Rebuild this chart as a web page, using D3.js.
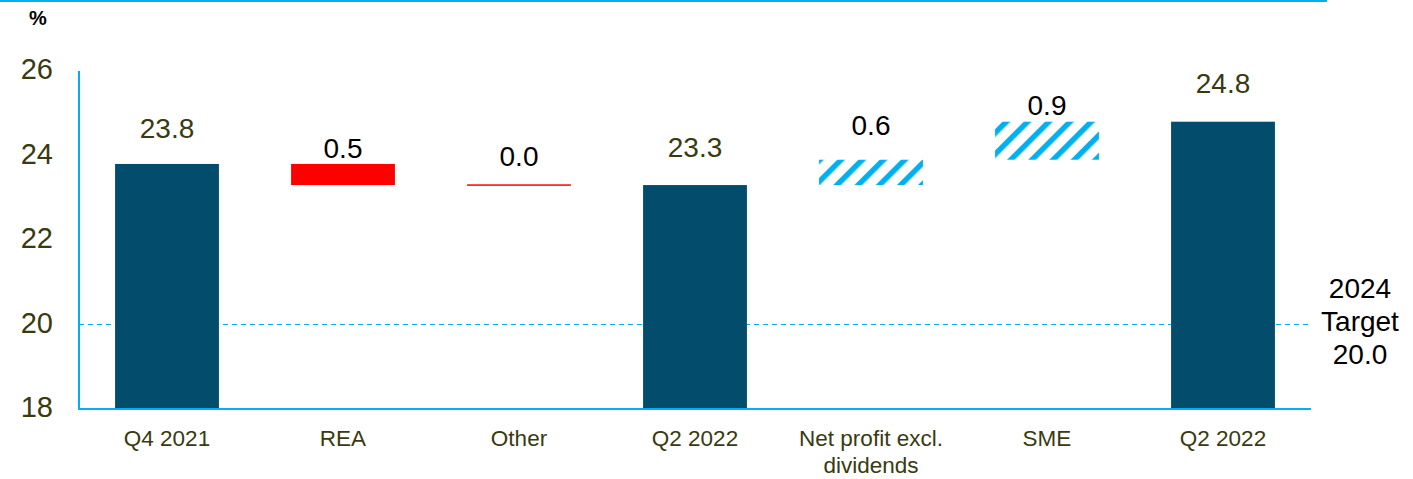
<!DOCTYPE html>
<html>
<head>
<meta charset="utf-8">
<script src="https://cdn.jsdelivr.net/npm/d3@7"></script>
<style>
  body { margin: 0; background: #fff; }
  svg { display: block; font-family: "Liberation Sans", Arial, sans-serif; }
</style>
</head>
<body>
<script>
// waterfall: CET1 ratio bridge
var categories = ["Q4 2021", "REA", "Other", "Q2 2022", "Net profit excl.|dividends", "SME", "Q2 2022"];
var kinds = ["total", "down", "down", "total", "up", "up", "total"];
var values = [23.8, 0.5, 0.0, 23.3, 0.6, 0.9, 24.8];
var yTicks = [18, 20, 22, 24, 26];
var target = 20.0;
var targetLines = ["2024", "Target", "20.0"];

var width = 1413, height = 479;
var plot = {left: 79, right: 1311, top: 71, bottom: 409};
// label distance above each bar (px)
var labelGap = [26, 6, 19, 28, 25, 7, 29];

var navy = "#044c6c", cyan = "#00b0f0", red = "#ff0000", olive = "#3a3a10";

// running totals
var bars = [];
var level = 0;
for (var i = 0; i < values.length; i++) {
  var lo, hi;
  if (kinds[i] == "total") { level = values[i]; lo = yTicks[0]; hi = level; }
  else if (kinds[i] == "down") { hi = level; level = level - values[i]; lo = level; }
  else { lo = level; level = level + values[i]; hi = level; }
  bars.push({i: i, kind: kinds[i], lo: lo, hi: hi, label: values[i].toFixed(1)});
}

var x = d3.scaleBand()
  .domain(d3.range(categories.length))
  .range([plot.left, plot.right])
  .paddingInner(0.41)
  .paddingOuter(0.205);

var y = d3.scaleLinear()
  .domain([18, 26])
  .range([plot.bottom, plot.top]);

var svg = d3.select("body").append("svg")
  .attr("width", width).attr("height", height);

var defs = svg.append("defs");
var pat = defs.append("pattern")
  .attr("id", "hatch")
  .attr("patternUnits", "userSpaceOnUse")
  .attr("width", 15).attr("height", 15)
  .attr("patternTransform", "rotate(45)");
pat.append("rect").attr("width", 15).attr("height", 15).attr("fill", "#fff");
pat.append("rect").attr("x", 0).attr("width", 5.5).attr("height", 15).attr("fill", cyan);

// top rule
svg.append("line")
  .attr("x1", 0).attr("x2", 1327).attr("y1", 1).attr("y2", 1)
  .attr("stroke", cyan).attr("stroke-width", 2);

svg.append("text")
  .attr("x", 29).attr("y", 25)
  .attr("font-size", 20).attr("font-weight", "bold")
  .text("%");

// y axis labels
var yAxis = d3.axisLeft(y).tickValues(yTicks).tickSize(0).tickPadding(26);
var gy = svg.append("g").attr("transform", "translate(" + plot.left + ",0)").call(yAxis);
gy.select(".domain").remove();
gy.selectAll("text")
  .attr("font-size", 29).attr("fill", olive)
  .attr("font-family", "Liberation Sans, Arial, sans-serif")
  .attr("dy", "0.26em");

// target line
svg.append("line")
  .attr("x1", plot.left).attr("x2", plot.right)
  .attr("y1", y(target)).attr("y2", y(target))
  .attr("stroke", cyan).attr("stroke-width", 1.2)
  .attr("stroke-dasharray", "5,4");

// bars
svg.selectAll("rect.bar").data(bars)
  .enter().append("rect")
  .attr("class", "bar")
  .attr("x", function(d) { return x(d.i); })
  .attr("width", x.bandwidth())
  .attr("y", function(d) { return d.hi == d.lo ? y(d.hi) - 0.75 : y(d.hi); })
  .attr("height", function(d) { return Math.max(1.5, y(d.lo) - y(d.hi)); })
  .attr("fill", function(d) {
    if (d.kind == "total") return navy;
    if (d.kind == "down") return red;
    return "url(#hatch)";
  });

// value labels
svg.selectAll("text.val").data(bars)
  .enter().append("text")
  .attr("class", "val")
  .attr("x", function(d) { return x(d.i) + x.bandwidth() / 2; })
  .attr("y", function(d) { return y(d.hi) - labelGap[d.i]; })
  .attr("text-anchor", "middle")
  .attr("font-size", 28)
  .attr("fill", function(d) { return d.kind == "total" ? olive : "#000"; })
  .text(function(d) { return d.label; });

// axes lines
svg.append("line")
  .attr("x1", plot.left).attr("x2", plot.left)
  .attr("y1", plot.top).attr("y2", plot.bottom + 1)
  .attr("stroke", cyan).attr("stroke-width", 2);
svg.append("line")
  .attr("x1", plot.left - 1).attr("x2", plot.right)
  .attr("y1", plot.bottom).attr("y2", plot.bottom)
  .attr("stroke", cyan).attr("stroke-width", 2);

// x labels
var xl = svg.selectAll("text.cat").data(categories)
  .enter().append("text")
  .attr("class", "cat")
  .attr("x", function(d, i) { return x(i) + x.bandwidth() / 2; })
  .attr("y", 446)
  .attr("text-anchor", "middle")
  .attr("font-size", 22.5)
  .attr("fill", olive);
xl.each(function(d) {
  var parts = d.split("|");
  var t = d3.select(this);
  parts.forEach(function(p, k) {
    t.append("tspan")
      .attr("x", t.attr("x"))
      .attr("dy", k == 0 ? 0 : 27)
      .text(p);
  });
});

// target label
svg.selectAll("text.tgt").data(targetLines)
  .enter().append("text")
  .attr("class", "tgt")
  .attr("x", 1360)
  .attr("y", function(d, i) { return y(target) - 27 + i * 33; })
  .attr("text-anchor", "middle")
  .attr("font-size", 28)
  .attr("fill", "#000")
  .text(function(d) { return d; });
</script>
</body>
</html>
